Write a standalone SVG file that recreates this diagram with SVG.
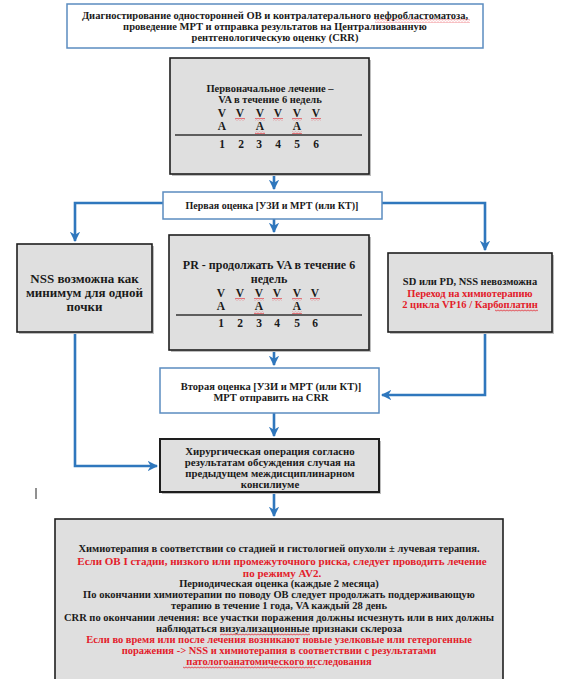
<svg xmlns="http://www.w3.org/2000/svg" xmlns:xlink="http://www.w3.org/1999/xlink" width="563" height="679" viewBox="0 0 563 679">
<style>
text{font-family:"Liberation Serif","DejaVu Serif",serif;font-weight:bold;text-anchor:middle;fill:#1a1a1a}
.r{fill:#e3202a}
.blue{fill:#fff;stroke:#5b8cc0;stroke-width:1.5}
.gray{fill:#dfdfdf;stroke:#1e1e1e;stroke-width:1.6}
.shadow{fill:#bdbdbd}
.conn{fill:none;stroke:#2f77bd;stroke-width:2.6;stroke-linejoin:miter}
.rule{stroke:#333;stroke-width:1.5}
.wv{fill:url(#wave)}
</style>
<defs>
<marker id="ah" viewBox="0 0 10 10" refX="9" refY="5" markerWidth="4" markerHeight="4" orient="auto" markerUnits="strokeWidth">
<path d="M0,0 L10,5 L0,10 L3,5 Z" fill="#2f77bd"/>
</marker>
<pattern id="wave" width="3" height="3" patternUnits="userSpaceOnUse">
<path d="M0,0.6 L1.5,2.2 L3,0.6" fill="none" stroke="#e3202a" stroke-width="0.9"/>
</pattern>
</defs>

<g id="connectors">
<path class="conn" d="M274,174 V189" marker-end="url(#ah)"/>
<path class="conn" d="M163,203 H75 V241" marker-end="url(#ah)"/>
<path class="conn" d="M382,203 H485 V250" marker-end="url(#ah)"/>
<path class="conn" d="M274,219 V232" marker-end="url(#ah)"/>
<path class="conn" d="M274,350 V365" marker-end="url(#ah)"/>
<path class="conn" d="M485,332 V395 H382" marker-end="url(#ah)"/>
<path class="conn" d="M75,332 V466 H157" marker-end="url(#ah)"/>
<path class="conn" d="M274,413 V436" marker-end="url(#ah)"/>
<path class="conn" d="M274,492 V516" marker-end="url(#ah)"/>
</g>

<g id="n-diagnosis">
<rect class="blue" x="67" y="4" width="416" height="44"/>
<text x="275" y="18.5" font-size="10.5">Диагностирование односторонней ОВ и контралатерального нефробластоматоза,</text>
<text x="275" y="29.5" font-size="10.5">проведение МРТ и отправка результатов на Централизованную</text>
<text x="275" y="40.5" font-size="10.5">рентгенологическую оценку (CRR)</text>
<rect class="wv" x="375" y="19.5" width="95" height="3"/>
</g>

<g id="n-initial">
<rect class="shadow" x="172" y="60" width="199" height="116"/>
<rect class="gray" x="170" y="58" width="199" height="116"/>
<text x="270" y="92" font-size="10.5">Первоначальное лечение –</text>
<text x="270" y="103" font-size="10.5">VA в течение 6 недель</text>
<g font-size="11.5">
<text x="222" y="117">V</text><text x="240" y="117">V</text><text x="260" y="117">V</text><text x="278" y="117">V</text><text x="297" y="117">V</text><text x="316" y="117">V</text>
<text x="222" y="130">A</text><text x="260" y="130">A</text><text x="297" y="130">A</text>
<text x="222" y="148">1</text><text x="241" y="148">2</text><text x="259" y="148">3</text><text x="278" y="148">4</text><text x="297" y="148">5</text><text x="316" y="148">6</text>
</g>
<line class="rule" x1="175" y1="135" x2="362" y2="135"/>
<rect class="wv" x="235" y="118" width="10" height="3"/><rect class="wv" x="255" y="118" width="10" height="3"/><rect class="wv" x="273" y="118" width="10" height="3"/><rect class="wv" x="292" y="118" width="10" height="3"/><rect class="wv" x="311" y="118" width="10" height="3"/>
<rect class="wv" x="255" y="131" width="10" height="3"/><rect class="wv" x="292" y="131" width="10" height="3"/>
</g>

<g id="n-first-eval">
<rect class="blue" x="163" y="192" width="219" height="27"/>
<text x="272" y="209" font-size="10">Первая оценка [УЗИ и МРТ (или КТ)]</text>
</g>

<g id="n-nss">
<rect class="shadow" x="19" y="246" width="135" height="88"/>
<rect class="gray" x="17" y="244" width="135" height="88"/>
<text x="84.5" y="283" font-size="13">NSS возможна как</text>
<text x="84.5" y="297" font-size="13">минимум для одной</text>
<text x="84.5" y="311" font-size="13">почки</text>
</g>

<g id="n-pr">
<rect class="shadow" x="171" y="237" width="200" height="115"/>
<rect class="gray" x="169" y="235" width="200" height="115"/>
<text x="269" y="269" font-size="12">PR - продолжать VA в течение 6</text>
<text x="269" y="283" font-size="12">недель</text>
<g font-size="11.5">
<text x="221" y="297">V</text><text x="240" y="297">V</text><text x="259" y="297">V</text><text x="277" y="297">V</text><text x="297" y="297">V</text><text x="315" y="297">V</text>
<text x="221" y="310">A</text><text x="259" y="310">A</text><text x="297" y="310">A</text>
<text x="221" y="327">1</text><text x="240" y="327">2</text><text x="259" y="327">3</text><text x="277" y="327">4</text><text x="297" y="327">5</text><text x="315" y="327">6</text>
</g>
<line class="rule" x1="176" y1="315" x2="362" y2="315"/>
<rect class="wv" x="235" y="298" width="10" height="3"/><rect class="wv" x="254" y="298" width="10" height="3"/><rect class="wv" x="272" y="298" width="10" height="3"/><rect class="wv" x="292" y="298" width="10" height="3"/><rect class="wv" x="310" y="298" width="10" height="3"/>
<rect class="wv" x="254" y="311" width="10" height="3"/><rect class="wv" x="292" y="311" width="10" height="3"/>
</g>

<g id="n-sd">
<rect class="shadow" x="390" y="255" width="164" height="79"/>
<rect class="gray" x="388" y="253" width="164" height="79"/>
<text x="470" y="285" font-size="10.5">SD или PD, NSS невозможна</text>
<text x="470" y="296.5" font-size="10.5" class="r">Переход на химиотерапию</text>
<text x="470" y="308" font-size="10.5" class="r">2 цикла VP16 / Карбоплатин</text>
<rect class="wv" x="495" y="309" width="43" height="3"/>
</g>

<g id="n-second-eval">
<rect class="blue" x="160" y="368" width="219" height="45"/>
<text x="271" y="390" font-size="10.5">Вторая оценка [УЗИ и МРТ (или КТ)]</text>
<text x="271" y="401" font-size="10.5">МРТ отправить на CRR</text>
</g>

<g id="n-surgery">
<rect class="shadow" x="162" y="441" width="219" height="53"/>
<rect class="gray" x="160" y="439" width="219" height="53" style="stroke-width:2"/>
<text x="270" y="455" font-size="10.8">Хирургическая операция согласно</text>
<text x="270" y="466" font-size="10.8">результатам обсуждения случая на</text>
<text x="270" y="477" font-size="10.8">предыдущем междисциплинарном</text>
<text x="270" y="488" font-size="10.8">консилиуме</text>
</g>

<g id="n-chemo">
<rect class="gray" x="55" y="519" width="448" height="170"/>
<g font-size="10.5">
<text x="279" y="552">Химиотерапия в соответствии со стадией и гистологией опухоли ± лучевая терапия.</text>
<text x="282" y="565" class="r" font-size="11">Если ОВ I стадии, низкого или промежуточного риска, следует проводить лечение</text>
<text x="282" y="577" class="r" font-size="11">по режиму AV2.</text>
<text x="279" y="587">Периодическая оценка (каждые 2 месяца)</text>
<text x="279" y="598">По окончании химиотерапии по поводу ОВ следует продолжать поддерживающую</text>
<text x="279" y="609">терапию в течение 1 года, VA каждый 28 день</text>
<text x="279" y="621">CRR по окончании лечения: все участки поражения должны исчезнуть или в них должны</text>
<text x="279" y="632">наблюдаться визуализационные признаки склероза</text>
<text x="279" y="643" class="r">Если во время или после лечения возникают новые узелковые или гетерогенные</text>
<text x="279" y="654" class="r">поражения -&gt; NSS и химиотерапия в соответствии с результатами</text>
<text x="279" y="665" class="r">патологоанатомического исследования</text>
</g>
<rect class="wv" x="220" y="633" width="90" height="3"/>
<rect class="wv" x="183" y="666" width="132" height="3"/>
</g>

<line x1="36" y1="488" x2="36" y2="499" stroke="#222" stroke-width="1"/>
</svg>
